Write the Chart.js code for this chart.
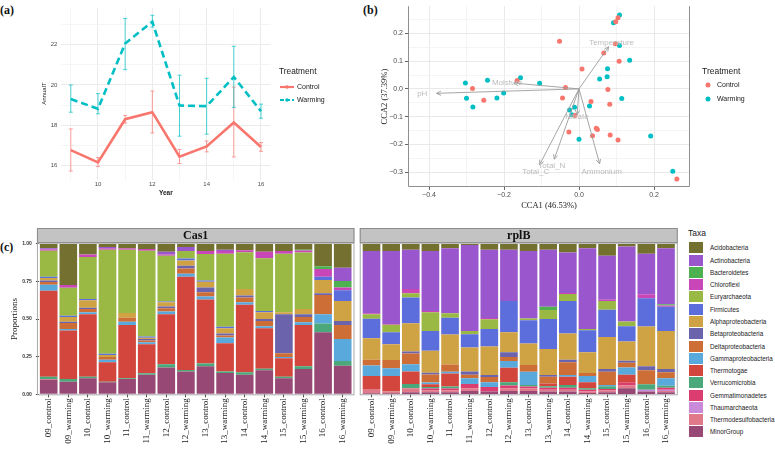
<!DOCTYPE html>
<html>
<head>
<meta charset="utf-8">
<title>Warming figure</title>
<script src="https://cdn.jsdelivr.net/npm/chart.js@4.4.1/dist/chart.umd.min.js"></script>
<style>
  html, body { margin: 0; padding: 0; background: #fff; }
  body { position: relative; width: 775px; height: 452px; overflow: hidden; font-family: "Liberation Sans", Arial, sans-serif; }
  canvas { position: absolute; }
  .tag { position: absolute; font: bold 12px "Liberation Serif", serif; color: #111; line-height: 1; }
  #taxa { position: absolute; left: 688px; top: 228px; }
  #taxa .title { font-size: 8.5px; color: #222; height: 13.8px; line-height: 10px; }
  #taxa .item { position: relative; height: 12.27px; }
  #taxa .sw { position: absolute; left: 1px; top: 0.6px; width: 14px; height: 11px; }
  #taxa .lab { position: absolute; left: 22px; top: 0.6px; line-height: 11px; font-size: 6.3px; color: #222; white-space: nowrap; }
</style>
</head>
<body>
<div class="tag" style="left:0px;top:4px">(a)</div>
<div class="tag" style="left:363px;top:4px">(b)</div>
<div class="tag" style="left:0px;top:241px">(c)</div>

<canvas id="chartA" width="380" height="200" style="left:0px;top:0px"></canvas>
<canvas id="chartB" width="395" height="212" style="left:380px;top:0px"></canvas>
<canvas id="chartCas1" width="357" height="226" style="left:0px;top:226px"></canvas>
<canvas id="chartRplB" width="330" height="226" style="left:357px;top:226px"></canvas>
<div id="taxa"></div>

<script>
// ---------- (a) annual temperature ----------
const years = [9, 10, 11, 12, 13, 14, 15, 16];
const controlMean = [16.77, 16.16, 18.30, 18.65, 16.44, 16.95, 18.14, 16.92];
const controlLow  = [15.73, 15.95, 18.11, 17.62, 16.10, 16.68, 16.43, 16.71];
const controlHigh = [17.82, 16.40, 18.49, 19.70, 16.80, 17.22, 19.90, 17.14];
const warmingMean = [19.30, 18.82, 22.06, 23.14, 18.98, 18.95, 20.40, 18.70];
const warmingLow  = [18.65, 18.57, 20.76, 22.87, 17.46, 17.56, 18.89, 18.35];
const warmingHigh = [20.00, 19.57, 23.30, 23.46, 20.49, 20.33, 21.92, 19.05];
const yearTicks = [9, 10, 11, 12, 13, 14, 15, 16];
const annualTicks = [16, 17, 18, 19, 20, 21, 22, 23];

// ---------- (b) CCA ordination ----------
const controlCCA1 = [0.104, 0.098, -0.052, 0.097, 0.066, 0.107, 0.008, -0.165, -0.036, -0.284, 0.077, -0.254,
                     -0.044, 0.032, 0.082, -0.011, 0.046, 0.049, -0.027, 0.083, 0.036, 0.104, 0.261];
const controlCCA2 = [0.256, 0.242, 0.172, 0.163, 0.129, 0.100, 0.072, 0.030, 0.005, 0.001, -0.002, -0.041,
                     -0.033, -0.045, -0.055, -0.096, -0.142, -0.146, -0.155, -0.166, -0.169, -0.184, -0.325];
const warmingCCA1 = [0.108, 0.092, 0.108, 0.135, 0.076, 0.075, 0.055, -0.156, -0.303, -0.244, -0.105, -0.201,
                     -0.300, -0.219, 0.114, 0.028, -0.283, -0.025, -0.012, -0.019, 0.000, 0.191, 0.250];
const warmingCCA2 = [0.266, 0.238, 0.156, 0.103, 0.073, 0.044, 0.036, 0.040, 0.021, 0.031, 0.020, -0.015,
                     -0.034, -0.033, -0.035, -0.062, -0.065, -0.076, -0.066, -0.093, -0.181, -0.170, -0.297];
const envNames = ['pH', 'Moisture', 'Temperature', 'Nitrate', 'Total_N', 'Total_C', 'Ammonium'];
const envCCA1 = [-0.380, -0.174, 0.079, -0.005, -0.066, -0.105, 0.055];
const envCCA2 = [-0.016, 0.021, 0.152, -0.093, -0.253, -0.273, -0.270];
const cca1Ticks = [-0.4, -0.3, -0.2, -0.1, 0, 0.1, 0.2];
const cca2Ticks = [-0.3, -0.25, -0.2, -0.15, -0.1, -0.05, 0, 0.05, 0.1, 0.15, 0.2, 0.25];

// ---------- (c) taxa proportions ----------
const samples = ['09_control', '09_warming', '10_control', '10_warming', '11_control', '11_warming',
                 '12_control', '12_warming', '13_control', '13_warming', '14_control', '14_warming',
                 '15_control', '15_warming', '16_control', '16_warming'];
const taxa = ['Acidobacteria', 'Actinobacteria', 'Bacteroidetes', 'Chloroflexi', 'Euryarchaeota', 'Firmicutes',
              'Alphaproteobacteria', 'Betaproteobacteria', 'Deltaproteobacteria', 'Gammaproteobacteria',
              'Thermotogae', 'Verrucomicrobia', 'Gemmatimonadetes', 'Thaumarchaeota', 'Thermodesulfobacteria', 'MinorGroup'];
const taxaColors = ['#747130', '#9a56cc', '#4db14f', '#c946b8', '#99b844', '#5b6edb',
                    '#cfa244', '#6b63ab', '#cd6e36', '#5aa9dd', '#d2463e', '#4aa87a',
                    '#dc3d70', '#c98bd9', '#e07a8a', '#974875'];

const cas1Acidobacteria        = [0.031, 0.274, 0.071, 0.022, 0.031, 0.035, 0.053, 0.022, 0.049, 0.040, 0.044, 0.053, 0.049, 0.040, 0.150, 0.159];
const cas1Actinobacteria       = [0.007, 0, 0, 0.009, 0, 0, 0.018, 0.027, 0, 0.009, 0, 0, 0, 0, 0, 0.088];
const cas1Bacteroidetes        = [0, 0, 0, 0, 0, 0, 0, 0, 0, 0, 0, 0, 0, 0.005, 0.018, 0.044];
const cas1Chloroflexi          = [0.009, 0.018, 0.018, 0.009, 0.009, 0.011, 0.009, 0, 0.020, 0.018, 0.013, 0.044, 0.018, 0.013, 0.051, 0.018];
const cas1Euryarchaeota        = [0.173, 0.186, 0.278, 0.690, 0.420, 0.571, 0.303, 0.049, 0.175, 0.484, 0.243, 0.350, 0.389, 0.376, 0, 0];
const cas1Firmicutes           = [0.007, 0.009, 0.009, 0.009, 0, 0.007, 0.005, 0.013, 0.009, 0.011, 0, 0.009, 0, 0, 0.022, 0.071];
const cas1Alphaproteobacteria  = [0.018, 0.031, 0.049, 0.013, 0.031, 0.009, 0.029, 0.035, 0.038, 0.035, 0.044, 0.044, 0.013, 0.035, 0.088, 0.133];
const cas1Betaproteobacteria   = [0.009, 0.009, 0.009, 0, 0, 0.009, 0.011, 0.018, 0.031, 0.013, 0.013, 0.013, 0.259, 0.018, 0.011, 0.027];
const cas1Deltaproteobacteria  = [0.018, 0.040, 0.022, 0.018, 0.027, 0.013, 0.022, 0.035, 0.029, 0.013, 0.031, 0.035, 0.024, 0.035, 0.128, 0.093];
const cas1Gammaproteobacteria  = [0.040, 0.009, 0.013, 0.018, 0.022, 0.013, 0.018, 0.020, 0.020, 0.038, 0.018, 0.013, 0.009, 0.018, 0.062, 0.146];
const cas1Thermotogae          = [0.572, 0.322, 0.414, 0.128, 0.354, 0.192, 0.332, 0.619, 0.425, 0.188, 0.447, 0.270, 0.122, 0.274, 0, 0];
const cas1Verrucomicrobia      = [0.015, 0.018, 0.011, 0.004, 0.004, 0.011, 0.022, 0.011, 0.018, 0.009, 0.018, 0.009, 0.011, 0.018, 0.058, 0.031];
const cas1Gemmatimonadetes     = [0, 0, 0, 0, 0, 0, 0, 0, 0, 0, 0, 0, 0, 0, 0, 0];
const cas1Thaumarchaeota       = [0, 0, 0, 0, 0, 0, 0, 0, 0, 0, 0, 0, 0, 0, 0, 0];
const cas1Thermodesulfobacteria = [0.004, 0, 0, 0, 0, 0, 0, 0, 0, 0, 0, 0, 0, 0, 0, 0];
const cas1MinorGroup           = [0.097, 0.084, 0.106, 0.080, 0.102, 0.129, 0.178, 0.151, 0.186, 0.142, 0.129, 0.160, 0.106, 0.168, 0.412, 0.190];

const rplBAcidobacteria        = [0.049, 0.049, 0.040, 0.049, 0.031, 0.009, 0.040, 0.040, 0.049, 0.040, 0.058, 0.031, 0.080, 0.018, 0.066, 0.031];
const rplBActinobacteria       = [0.412, 0.485, 0.260, 0.398, 0.430, 0.571, 0.454, 0.340, 0.447, 0.378, 0.269, 0.535, 0.292, 0.499, 0.270, 0.371];
const rplBBacteroidetes        = [0, 0, 0, 0, 0, 0, 0, 0, 0, 0.022, 0, 0, 0, 0, 0, 0.009];
const rplBChloroflexi          = [0.007, 0.005, 0.029, 0.009, 0, 0, 0.007, 0, 0, 0, 0.007, 0, 0.009, 0, 0.027, 0.007];
const rplBEuryarchaeota        = [0.031, 0.049, 0.029, 0.124, 0.031, 0.022, 0.066, 0, 0.013, 0.060, 0.046, 0.009, 0.058, 0.031, 0, 0];
const rplBFirmicutes           = [0.128, 0.080, 0.170, 0.131, 0.111, 0.088, 0.115, 0.208, 0.153, 0.199, 0.217, 0.146, 0.181, 0.102, 0.186, 0.162];
const rplBAlphaproteobacteria  = [0.144, 0.104, 0.188, 0.146, 0.199, 0.159, 0.190, 0.133, 0.144, 0.173, 0.173, 0.137, 0.212, 0.128, 0.265, 0.252];
const rplBBetaproteobacteria   = [0, 0, 0.013, 0.011, 0, 0.022, 0.013, 0.031, 0, 0.011, 0.018, 0, 0.018, 0.013, 0.027, 0.022];
const rplBDeltaproteobacteria  = [0.038, 0.055, 0.071, 0.053, 0.049, 0.022, 0.035, 0.027, 0.044, 0.046, 0.084, 0.020, 0.088, 0.031, 0.093, 0.040];
const rplBGammaproteobacteria  = [0.069, 0.051, 0.049, 0.013, 0.011, 0.038, 0.031, 0.044, 0.088, 0, 0.011, 0.042, 0.009, 0.049, 0, 0.049];
const rplBThermotogae          = [0.086, 0.104, 0.082, 0.018, 0.086, 0, 0, 0.097, 0, 0.018, 0.055, 0.040, 0, 0.053, 0, 0];
const rplBVerrucomicrobia      = [0, 0, 0.029, 0.009, 0.013, 0, 0, 0.022, 0.011, 0.009, 0.018, 0.009, 0.018, 0, 0.035, 0.013];
const rplBGemmatimonadetes     = [0, 0, 0, 0.013, 0.013, 0.029, 0.031, 0.018, 0.011, 0.013, 0.013, 0.013, 0.009, 0.018, 0, 0.013];
const rplBThaumarchaeota       = [0, 0, 0, 0, 0, 0, 0, 0, 0, 0, 0, 0, 0, 0, 0.013, 0.009];
const rplBThermodesulfobacteria = [0.029, 0.011, 0.027, 0.013, 0.013, 0.018, 0, 0.018, 0.018, 0.013, 0.013, 0.009, 0.013, 0.018, 0, 0.009];
const rplBMinorGroup           = [0.007, 0.007, 0.013, 0.013, 0.013, 0.022, 0.018, 0.022, 0.022, 0.018, 0.018, 0.009, 0.013, 0.040, 0.018, 0.013];
const propTicks = [0, 0.25, 0.5, 0.75, 1];

// same order as taxa
const cas1Series = [cas1Acidobacteria, cas1Actinobacteria, cas1Bacteroidetes, cas1Chloroflexi, cas1Euryarchaeota,
  cas1Firmicutes, cas1Alphaproteobacteria, cas1Betaproteobacteria, cas1Deltaproteobacteria, cas1Gammaproteobacteria,
  cas1Thermotogae, cas1Verrucomicrobia, cas1Gemmatimonadetes, cas1Thaumarchaeota, cas1Thermodesulfobacteria, cas1MinorGroup];
const rplBSeries = [rplBAcidobacteria, rplBActinobacteria, rplBBacteroidetes, rplBChloroflexi, rplBEuryarchaeota,
  rplBFirmicutes, rplBAlphaproteobacteria, rplBBetaproteobacteria, rplBDeltaproteobacteria, rplBGammaproteobacteria,
  rplBThermotogae, rplBVerrucomicrobia, rplBGemmatimonadetes, rplBThaumarchaeota, rplBThermodesulfobacteria, rplBMinorGroup];

Chart.defaults.font.family = '"Liberation Sans", Arial, sans-serif';
Chart.defaults.animation = false;

const red = '#F8766D';
const teal = '#00BFC4';
const minus = s => String(s).replace('-', '\u2212');

// ---------- panel (a) ----------
const errorBars = {
  id: 'errorBars',
  beforeDatasetsDraw(chart) {
    const { ctx, scales: { x, y } } = chart;
    const groups = [[controlLow, controlHigh, red], [warmingLow, warmingHigh, teal]];
    ctx.save();
    ctx.lineWidth = 1;
    ctx.globalAlpha = 0.7;
    groups.forEach(([lo, hi, col]) => {
      ctx.strokeStyle = col;
      years.forEach((yr, i) => {
        const px = x.getPixelForValue(yr);
        const p1 = y.getPixelForValue(lo[i]);
        const p2 = y.getPixelForValue(hi[i]);
        ctx.beginPath();
        ctx.moveTo(px, p1); ctx.lineTo(px, p2);
        ctx.moveTo(px - 2, p1); ctx.lineTo(px + 2, p1);
        ctx.moveTo(px - 2, p2); ctx.lineTo(px + 2, p2);
        ctx.stroke();
      });
    });
    ctx.restore();
  }
};

const legendA = {
  id: 'legendA',
  afterDraw(chart) {
    const ctx = chart.ctx;
    ctx.save();
    ctx.textBaseline = 'middle';
    ctx.fillStyle = '#1a1a1a';
    ctx.font = '8.3px "Liberation Sans"';
    ctx.fillText('Treatment', 279, 72);
    [['Control', red, [], 87], ['Warming', teal, [4, 2], 100]].forEach(([name, col, dash, yy]) => {
      ctx.strokeStyle = col;
      ctx.lineWidth = 2.2;
      ctx.setLineDash(dash);
      ctx.beginPath(); ctx.moveTo(280, yy); ctx.lineTo(294, yy); ctx.stroke();
      ctx.setLineDash([]);
      ctx.fillStyle = col;
      ctx.beginPath(); ctx.arc(287, yy, 1.8, 0, Math.PI * 2); ctx.fill();
      ctx.fillStyle = '#1a1a1a';
      ctx.font = '7px "Liberation Sans"';
      ctx.fillText(name, 297, yy);
    });
    ctx.restore();
  }
};

new Chart(document.getElementById('chartA'), {
  type: 'line',
  data: {
    datasets: [
      { label: 'Control', data: years.map((yr, i) => ({ x: yr, y: controlMean[i] })),
        borderColor: red, borderWidth: 2.6, pointRadius: 0, tension: 0 },
      { label: 'Warming', data: years.map((yr, i) => ({ x: yr, y: warmingMean[i] })),
        borderColor: teal, borderWidth: 2.6, borderDash: [7, 4], pointRadius: 0, tension: 0 }
    ]
  },
  options: {
    responsive: false,
    layout: { padding: { top: 0, left: 0, right: 109.5, bottom: 0 } },
    plugins: { legend: { display: false }, tooltip: { enabled: false } },
    scales: {
      x: {
        type: 'linear', min: 8.65, max: 16.35,
        afterBuildTicks: s => { s.ticks = yearTicks.map(v => ({ value: v })); },
        afterFit: s => { s.height = 20.5; },
        grid: { color: c => c.tick && c.tick.value % 2 === 0 ? '#e9e9e9' : '#f4f4f4', lineWidth: 0.9, drawTicks: false },
        border: { display: false },
        ticks: { callback: v => (v % 2 === 0 ? v : ''), font: { size: 6 }, color: '#4d4d4d', padding: 1, maxRotation: 0, autoSkip: false },
        title: { display: true, text: 'Year', font: { size: 6.5, weight: 'bold' }, color: '#222', padding: { top: 0, bottom: 3 } }
      },
      y: {
        min: 15.31, max: 23.84,
        afterBuildTicks: s => { s.ticks = annualTicks.map(v => ({ value: v })); },
        afterFit: s => { s.width = 61.3; },
        grid: { color: c => c.tick && c.tick.value % 2 === 0 ? '#e9e9e9' : '#f4f4f4', lineWidth: 0.9, drawTicks: false },
        border: { display: false },
        ticks: { callback: v => (v % 2 === 0 ? v : ''), font: { size: 6 }, color: '#4d4d4d', padding: 4, autoSkip: false },
        title: { display: true, text: 'AnnualT', font: { size: 6 }, color: '#222', padding: { top: 41 } }
      }
    }
  },
  plugins: [errorBars, legendA]
});

// ---------- panel (b) ----------
const ordination = {
  id: 'ordination',
  afterDatasetsDraw(chart) {
    const { ctx, scales: { x, y } } = chart;
    const x0 = x.getPixelForValue(0), y0 = y.getPixelForValue(0);
    ctx.save();
    ctx.strokeStyle = '#9c9c9c';
    ctx.lineWidth = 0.9;
    envNames.forEach((name, i) => {
      const x1 = x.getPixelForValue(envCCA1[i]);
      const y1 = y.getPixelForValue(envCCA2[i]);
      const ang = Math.atan2(y1 - y0, x1 - x0);
      ctx.beginPath();
      ctx.moveTo(x0, y0); ctx.lineTo(x1, y1);
      ctx.moveTo(x1 - 5 * Math.cos(ang - 0.45), y1 - 5 * Math.sin(ang - 0.45));
      ctx.lineTo(x1, y1);
      ctx.lineTo(x1 - 5 * Math.cos(ang + 0.45), y1 - 5 * Math.sin(ang + 0.45));
      ctx.stroke();
    });
    ctx.fillStyle = '#bcbcbc';
    ctx.font = '8px "Liberation Sans"';
    ctx.textAlign = 'center';
    ctx.textBaseline = 'middle';
    envNames.forEach((name, i) => {
      ctx.fillText(name, x.getPixelForValue(envCCA1[i] * 1.1), y.getPixelForValue(envCCA2[i] * 1.1));
    });
    ctx.restore();
  },
  afterDraw(chart) {
    const { ctx, chartArea: a } = chart;
    ctx.save();
    ctx.strokeStyle = '#8f8f8f';
    ctx.lineWidth = 1;
    ctx.beginPath();
    ctx.moveTo(a.left + 0.5, a.top); ctx.lineTo(a.left + 0.5, a.bottom - 0.5);
    ctx.lineTo(a.right - 0.5, a.bottom - 0.5); ctx.lineTo(a.right - 0.5, a.top);
    ctx.stroke();
    // legend
    ctx.textBaseline = 'middle';
    ctx.fillStyle = '#1a1a1a';
    ctx.font = '8.5px "Liberation Sans"';
    ctx.fillText('Treatment', 322, 72);
    [['Control', red, 85], ['Warming', teal, 99]].forEach(([name, col, yy]) => {
      ctx.fillStyle = col;
      ctx.beginPath(); ctx.arc(328, yy, 2.5, 0, Math.PI * 2); ctx.fill();
      ctx.fillStyle = '#1a1a1a';
      ctx.font = '7px "Liberation Sans"';
      ctx.fillText(name, 337, yy);
    });
    ctx.restore();
  }
};

const isMajor = (v, step) => Math.abs(Math.round(v * 100)) % step === 0;

new Chart(document.getElementById('chartB'), {
  type: 'scatter',
  data: {
    datasets: [
      { label: 'Control', data: controlCCA1.map((v, i) => ({ x: v, y: controlCCA2[i] })),
        backgroundColor: red, borderWidth: 0, pointRadius: 2.5 },
      { label: 'Warming', data: warmingCCA1.map((v, i) => ({ x: v, y: warmingCCA2[i] })),
        backgroundColor: teal, borderWidth: 0, pointRadius: 2.5 }
    ]
  },
  options: {
    responsive: false,
    layout: { padding: { top: 0, left: 0, right: 85, bottom: 0 } },
    plugins: { legend: { display: false }, tooltip: { enabled: false } },
    scales: {
      x: {
        type: 'linear', min: -0.456, max: 0.296,
        afterBuildTicks: s => { s.ticks = cca1Ticks.map(v => ({ value: v })); },
        afterFit: s => { s.height = 25; },
        grid: { color: c => c.tick && isMajor(c.tick.value, 20) ? '#e6e6e6' : '#f3f3f3', lineWidth: 0.9,
                drawTicks: true, tickLength: 3, tickColor: c => c.tick && isMajor(c.tick.value, 20) ? '#555' : 'rgba(0,0,0,0)' },
        border: { display: false },
        ticks: { callback: v => (isMajor(v, 20) ? minus(v.toFixed(1)) : ''), font: { size: 7 }, color: '#4d4d4d', padding: 1, maxRotation: 0, autoSkip: false },
        title: { display: true, text: 'CCA1 (46.53%)', font: { family: '"Liberation Serif", serif', size: 8.5 }, color: '#222', padding: { top: 0, bottom: 1 } }
      },
      y: {
        min: -0.3535, max: 0.298,
        afterBuildTicks: s => { s.ticks = cca2Ticks.map(v => ({ value: v })); },
        afterFit: s => { s.width = 28; },
        grid: { color: c => c.tick && isMajor(c.tick.value, 10) ? '#e6e6e6' : '#f3f3f3', lineWidth: 0.9,
                drawTicks: true, tickLength: 3, tickColor: c => c.tick && isMajor(c.tick.value, 10) ? '#555' : 'rgba(0,0,0,0)' },
        border: { display: false },
        ticks: { callback: v => (isMajor(v, 10) ? minus(v.toFixed(1)) : ''), font: { size: 7 }, color: '#4d4d4d', padding: 2, autoSkip: false },
        title: { display: true, text: 'CCA2 (37.39%)', font: { family: '"Liberation Serif", serif', size: 8.5 }, color: '#222', padding: { top: 0 } }
      }
    }
  },
  plugins: [ordination]
});

// ---------- panel (c) ----------
function facetStrip(title) {
  return {
    id: 'facetStrip',
    afterDraw(chart) {
      const { ctx, chartArea: a } = chart;
      const unit = (a.right - a.left) / samples.length;
      const L = a.left - 0.1 * unit, R = a.right + 0.1 * unit;
      ctx.save();
      ctx.fillStyle = '#c3c3c3';
      ctx.fillRect(L, 2, R - L, 14.5);
      ctx.strokeStyle = '#8a8a8a';
      ctx.lineWidth = 1;
      ctx.strokeRect(L + 0.5, 2.5, R - L - 1, 14);
      ctx.fillStyle = '#111';
      ctx.font = 'bold 12px "Liberation Serif"';
      ctx.textAlign = 'center';
      ctx.textBaseline = 'middle';
      ctx.fillText(title, (L + R) / 2, 9.8);
      ctx.strokeStyle = '#a8a8a8';
      ctx.strokeRect(L + 0.5, a.top - 0.5, R - L - 1, a.bottom - a.top + 1);
      ctx.restore();
    }
  };
}

function stackedChart(id, series, title, showY, pad) {
  const order = taxa.map((t, i) => i).reverse(); // MinorGroup at bottom, Acidobacteria on top
  return new Chart(document.getElementById(id), {
    type: 'bar',
    data: {
      labels: samples,
      datasets: order.map(i => ({
        label: taxa[i], data: series[i], backgroundColor: taxaColors[i],
        borderWidth: 0, barPercentage: 0.9, categoryPercentage: 1
      }))
    },
    options: {
      responsive: false,
      layout: { padding: pad },
      plugins: { legend: { display: false }, tooltip: { enabled: false } },
      scales: {
        x: {
          stacked: true,
          afterFit: s => { s.height = 57.7; },
          grid: { display: true, drawOnChartArea: false, drawTicks: true, tickLength: 3, tickColor: '#444', offset: false },
          border: { display: false },
          ticks: { font: { family: '"Liberation Serif", serif', size: 9 }, color: '#222', padding: 1,
                   minRotation: 90, maxRotation: 90, autoSkip: false }
        },
        y: {
          display: showY,
          stacked: true, min: 0, max: 1,
          afterBuildTicks: s => { s.ticks = propTicks.map(v => ({ value: v })); },
          afterFit: s => { s.width = showY ? 38.9 : 0; },
          grid: { drawOnChartArea: false, drawTicks: true, tickLength: 3, tickColor: '#444' },
          border: { display: false },
          ticks: { callback: v => v.toFixed(2), font: { size: 5, weight: 'bold' }, color: '#333', padding: 4 },
          title: { display: showY, text: 'Proportions', font: { family: '"Liberation Serif", serif', size: 9 }, color: '#222', padding: { top: 9.6 } }
        }
      }
    },
    plugins: [facetStrip(title)]
  });
}

stackedChart('chartCas1', cas1Series, 'Cas1', true, { top: 17.7, left: 0, right: 4.5, bottom: 0 });
stackedChart('chartRplB', rplBSeries, 'rplB', false, { top: 17.7, left: 4.7, right: 11.2, bottom: 0 });

// taxa legend
const legendBox = document.getElementById('taxa');
legendBox.innerHTML = '<div class="title">Taxa</div>' + taxa.map((t, i) =>
  `<div class="item"><div class="sw" style="background:${taxaColors[i]}"></div><div class="lab">${t}</div></div>`
).join('');
</script>
</body>
</html>
